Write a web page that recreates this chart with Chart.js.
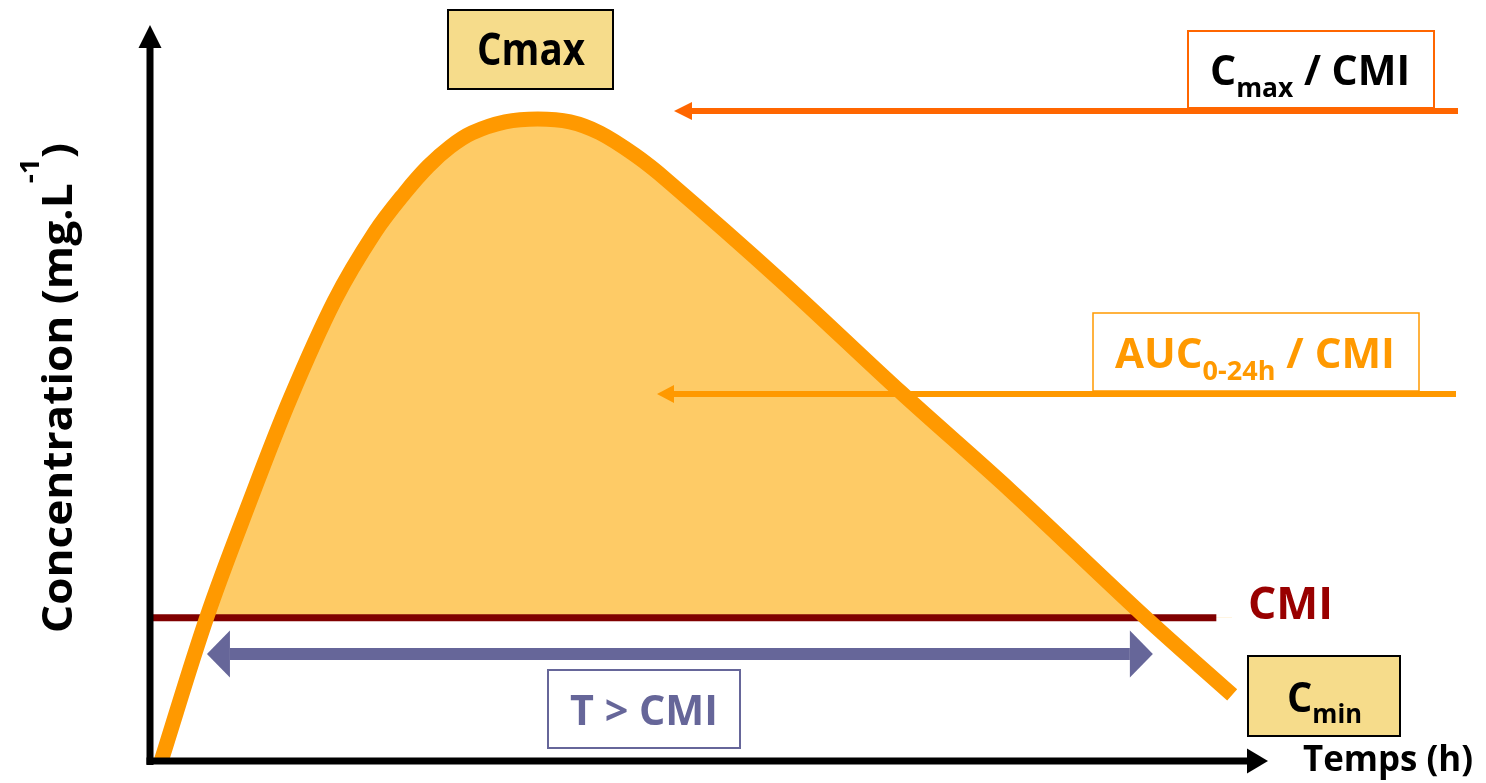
<!DOCTYPE html>
<html><head><meta charset="utf-8">
<script src="https://cdn.jsdelivr.net/npm/chart.js@4.4.1/dist/chart.umd.min.js"></script>
<style>html,body{margin:0;padding:0;background:#fff;overflow:hidden}#wrap{position:relative;width:1486px;height:783px}</style>
</head><body><div id="wrap"><canvas id="c"></canvas></div>
<script>
// ---- data (time in h, concentration in mg/L) ----
const timeH = [0.24, 1.22, 2.14, 3.0, 3.96, 4.82, 5.46, 5.96, 6.43, 6.9, 7.61, 8.31, 9.0, 9.64, 10.39, 11.08, 13.5, 16.11, 18.43, 21.32, 23.19];
const concentration = [0, 3.92, 7.07, 9.85, 12.54, 14.39, 15.46, 16.18, 16.71, 17.09, 17.39, 17.47, 17.39, 17.09, 16.49, 15.8, 13.09, 10.01, 7.37, 3.92, 1.8];
const cmiValue = 3.9;
const cmiLineTimes = [0, 22.85];
const timeAboveCmi = [1.22, 21.49];
const xRange = [0, 24];
const yRange = [0, 20];

const FONT = '"Open Sans", "Noto Sans", sans-serif';

const curvePoints = timeH.map((t, i) => ({x: t, y: concentration[i]}));
const cmiPoints = cmiLineTimes.map(t => ({x: t, y: cmiValue}));

function drawRich(ctx, segs, x, y, o) {
  ctx.save();
  ctx.fillStyle = o.color || '#000';
  ctx.textBaseline = 'alphabetic';
  ctx.textAlign = 'left';
  let total = 0;
  const ws = segs.map(s => { ctx.font = `bold ${s.size}px ${FONT}`; const w = ctx.measureText(s.t).width; total += w; return w; });
  const sx = o.width ? o.width / total : 1;
  ctx.translate(x, y);
  if (o.rotate) ctx.rotate(o.rotate);
  ctx.scale(sx, 1);
  let cx = -total / 2;
  segs.forEach((s, i) => { ctx.font = `bold ${s.size}px ${FONT}`; ctx.fillText(s.t, cx, s.dy || 0); cx += ws[i]; });
  ctx.restore();
}

function box(ctx, x1, y1, x2, y2, fill, stroke, lw) {
  ctx.save();
  if (fill) { ctx.fillStyle = fill; ctx.fillRect(x1, y1, x2 - x1, y2 - y1); }
  ctx.strokeStyle = stroke; ctx.lineWidth = lw;
  ctx.strokeRect(x1, y1, x2 - x1, y2 - y1);
  ctx.restore();
}

function arrowH(ctx, xTail, xTip, y, lw, headLen, headHalf, color, doubleHead) {
  ctx.save();
  ctx.fillStyle = color;
  const dir = xTip > xTail ? 1 : -1;
  const startX = doubleHead ? xTail + dir * headLen : xTail;
  const endX = xTip - dir * headLen;
  ctx.fillRect(Math.min(startX, endX), y - lw / 2, Math.abs(endX - startX), lw);
  const head = (tip, d) => {
    ctx.beginPath();
    ctx.moveTo(tip, y);
    ctx.lineTo(tip - d * headLen, y - headHalf);
    ctx.lineTo(tip - d * headLen, y + headHalf);
    ctx.closePath(); ctx.fill();
  };
  head(xTip, dir);
  if (doubleHead) head(xTail, -dir);
  ctx.restore();
}

const decor = {
  id: 'decor',
  afterDatasetsDraw(chart) {
    const ctx = chart.ctx;
    const xs = chart.scales.x, ys = chart.scales.y;
    const x0 = xs.getPixelForValue(0), y0 = ys.getPixelForValue(0);

    // T > CMI double arrow
    arrowH(ctx, xs.getPixelForValue(timeAboveCmi[0]), xs.getPixelForValue(timeAboveCmi[1]), 654, 12, 23, 23.5, '#666699', true);
    // Cmax / CMI arrow
    arrowH(ctx, 1458, 674, 111, 6, 18, 9, '#FF6600', false);
    // AUC arrow
    arrowH(ctx, 1456, 657, 394, 6, 17, 9, '#FF9900', false);

    // axes
    ctx.save();
    ctx.fillStyle = '#000';
    ctx.fillRect(x0 - 3.5, 45, 7, y0 + 4 - 45);
    ctx.beginPath(); ctx.moveTo(x0, 25); ctx.lineTo(x0 - 11.5, 48); ctx.lineTo(x0 + 11.5, 48); ctx.closePath(); ctx.fill();
    ctx.fillRect(x0 - 3.5, y0 - 3.5, 1250 - (x0 - 3.5), 7);
    ctx.beginPath(); ctx.moveTo(1268, y0); ctx.lineTo(1247, y0 - 12.5); ctx.lineTo(1247, y0 + 12.5); ctx.closePath(); ctx.fill();
    ctx.restore();

    // boxes
    box(ctx, 448, 10, 613, 89, '#F6DC8B', '#000', 2);
    box(ctx, 1188, 31, 1434, 108, '#FFFFFF', '#FF6600', 2);
    box(ctx, 1093, 313, 1419, 391, '#FFFFFF', '#FF9900', 1.5);
    box(ctx, 1248, 656, 1400, 736, '#F6DC8B', '#000', 2);
    box(ctx, 548, 670, 740, 748, '#FFFFFF', '#666699', 2);

    // texts
    drawRich(ctx, [{t: 'Cmax', size: 44}], 531, 65, {width: 108});
    drawRich(ctx, [{t: 'C', size: 42}, {t: 'max', size: 27, dy: 12}, {t: ' / CMI', size: 42}], 1310, 85, {width: 200});
    drawRich(ctx, [{t: 'AUC', size: 42}, {t: '0-24h', size: 27, dy: 12}, {t: ' / CMI', size: 42}], 1255, 368, {width: 280, color: '#FF9900'});
    drawRich(ctx, [{t: 'CMI', size: 44}], 1290.5, 619, {width: 85, color: '#990000'});
    drawRich(ctx, [{t: 'C', size: 42}, {t: 'min', size: 27, dy: 11}], 1324.5, 712, {width: 75});
    drawRich(ctx, [{t: 'T > CMI', size: 42}], 644, 725, {width: 148, color: '#666699'});
    drawRich(ctx, [{t: 'Temps (h)', size: 35}], 1388, 771, {width: 170});
    drawRich(ctx, [{t: 'Concentration (mg.L', size: 42}, {t: '-1', size: 27, dy: -33}, {t: ')', size: 42}], 72, 388, {width: 490, rotate: -Math.PI / 2});
  }
};

new Chart(document.getElementById('c'), {
  type: 'line',
  data: {
    datasets: [
      {
        label: 'Concentration',
        data: curvePoints,
        borderColor: '#FF9900',
        borderWidth: 15,
        pointRadius: 0,
        tension: 0.35,
        borderCapStyle: 'butt',
        borderJoinStyle: 'round',
        fill: {target: {value: cmiValue}, above: '#FECB66', below: 'rgba(0,0,0,0)'},
        clip: false,
        order: 0
      },
      {
        label: 'CMI',
        data: cmiPoints,
        borderColor: '#800000',
        borderWidth: 7,
        pointRadius: 0,
        fill: false,
        clip: false,
        order: 1
      }
    ]
  },
  options: {
    responsive: true,
    maintainAspectRatio: false,
    animation: false,
    events: [],
    layout: {padding: {left: 150, right: 216, top: 26, bottom: 22}},
    scales: {
      x: {type: 'linear', min: xRange[0], max: xRange[1], display: false},
      y: {type: 'linear', min: yRange[0], max: yRange[1], display: false}
    },
    plugins: {
      legend: {display: false},
      tooltip: {enabled: false},
      filler: {drawTime: 'beforeDatasetsDraw'}
    }
  },
  plugins: [decor]
});
</script>
</body></html>
